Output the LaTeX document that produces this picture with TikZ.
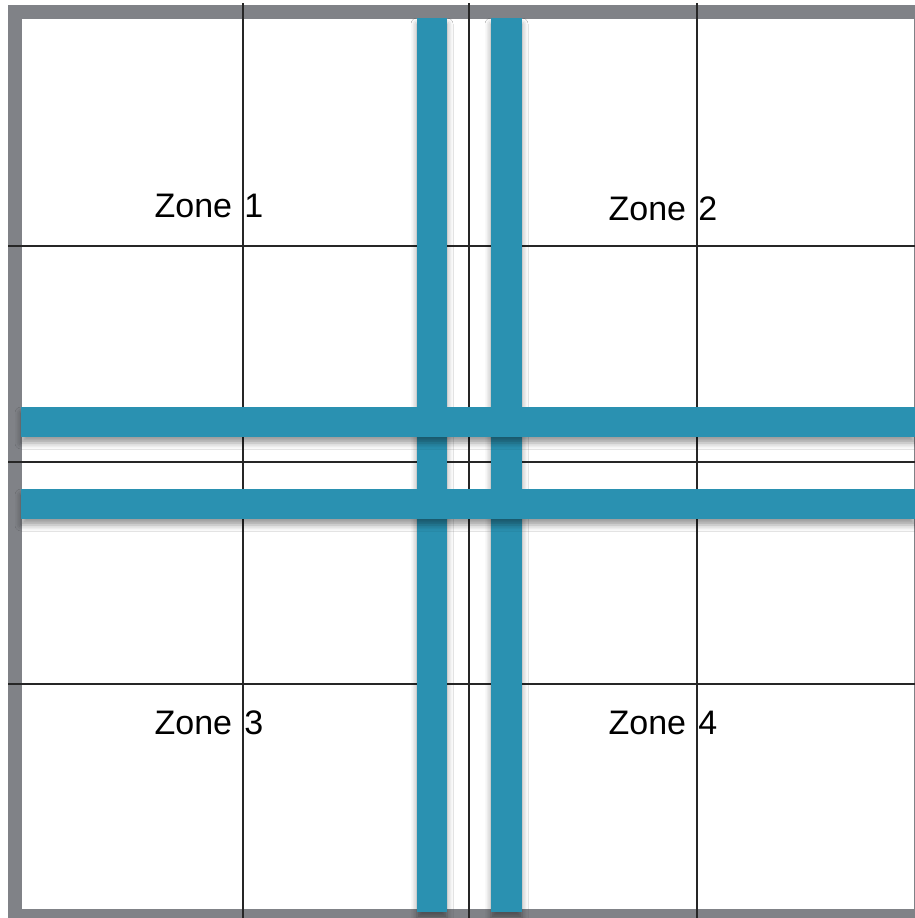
\documentclass[tikz,border=0pt]{standalone}
\usepackage{fontspec}
\setmainfont[WordSpace=1.3]{Liberation Sans}
\usepackage{tikz}
\usetikzlibrary{shadows.blur}
\definecolor{barblue}{RGB}{42,145,177}
\definecolor{framegray}{RGB}{128,130,135}

\begin{document}
\begin{tikzpicture}[
    x=0.5pt, y=-0.5pt,
    frame/.style={draw=framegray, line width=7pt},
    gridline/.style={draw=black!85, line width=0.6pt},
    bar/.style={fill=barblue, blur shadow={shadow xshift=0pt, shadow yshift=-3pt, shadow blur radius=3pt, shadow opacity=40}},
    zone/.style={font=\fontsize{17}{20}\selectfont, inner sep=0pt, anchor=base}
]
    \useasboundingbox (0,0) rectangle (915,918);
    \fill[white] (0,0) rectangle (915,918);

    % outer frame
    \draw[frame] (15,11.5) rectangle (921,916);

    % grid
    \foreach \gx in {243,469,697}
        \draw[gridline] (\gx,3) -- (\gx,918);
    \foreach \gy in {246,462,684}
        \draw[gridline] (8,\gy) -- (915,\gy);

    % bars
    \fill[bar] (417,18) rectangle (447,912);
    \fill[bar] (491,18) rectangle (522,912);
    \fill[bar] (21,407) rectangle (915,437);
    \fill[bar] (21,489) rectangle (915,519);

    % zones
    \node[zone] (zone1) at (209,217) {Zone 1};
    \node[zone] (zone2) at (663,220) {Zone 2};
    \node[zone] (zone3) at (209,734) {Zone 3};
    \node[zone] (zone4) at (663,734) {Zone 4};
\end{tikzpicture}
\end{document}
